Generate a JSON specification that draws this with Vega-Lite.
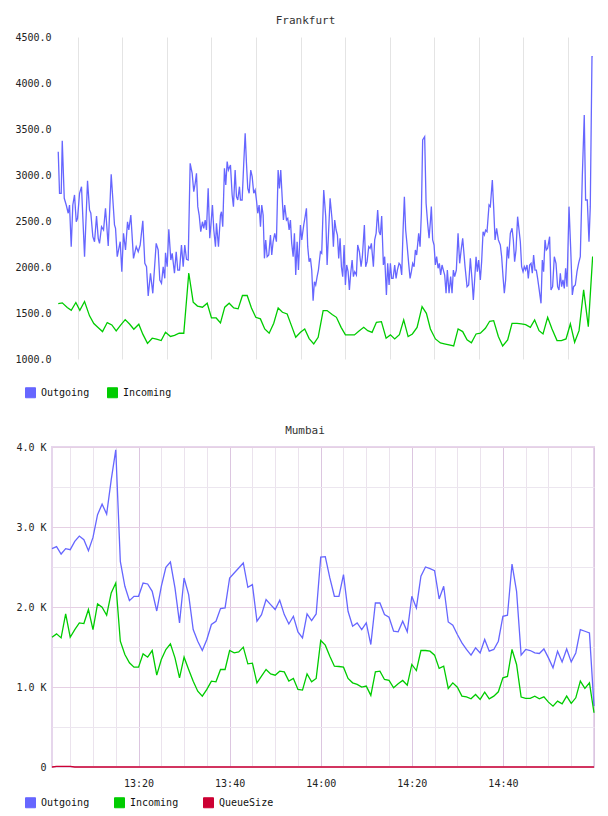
{
 "$schema": "https://vega.github.io/schema/vega-lite/v6.json",
 "padding": {"left": 14, "top": 15, "right": 2, "bottom": 5},
 "background": "white",
 "config": {
  "font": "DejaVu Sans Mono",
  "axis": {"labelFont": "DejaVu Sans Mono", "labelFontSize": 10, "labelColor": "#222", "ticks": false, "domain": false, "labelOverlap": false, "labelFlush": false},
  "legend": {"labelFont": "DejaVu Sans Mono", "labelFontSize": 10, "labelColor": "#111", "direction": "horizontal", "symbolType": "square", "symbolSize": 100, "symbolStrokeWidth": 1, "labelOffset": 5},
  "title": {"font": "DejaVu Sans Mono", "fontSize": 11, "fontWeight": "normal", "color": "#333", "anchor": "middle", "offset": 6}
 },
 "datasets": {
  "fra_out": [{"min":0.65,"Outgoing":3253},{"min":0.94,"Outgoing":2801},{"min":1.32,"Outgoing":2801},{"min":1.55,"Outgoing":3373},{"min":2.0,"Outgoing":2747},{"min":2.44,"Outgoing":2674},{"min":2.89,"Outgoing":2584},{"min":3.18,"Outgoing":2674},{"min":3.56,"Outgoing":2221},{"min":3.92,"Outgoing":2674},{"min":4.3,"Outgoing":2783},{"min":4.69,"Outgoing":2492},{"min":4.98,"Outgoing":2529},{"min":5.43,"Outgoing":2801},{"min":5.87,"Outgoing":2873},{"min":6.55,"Outgoing":2112},{"min":7.22,"Outgoing":2938},{"min":7.67,"Outgoing":2620},{"min":7.96,"Outgoing":2584},{"min":8.41,"Outgoing":2329},{"min":8.79,"Outgoing":2275},{"min":9.24,"Outgoing":2554},{"min":9.62,"Outgoing":2312},{"min":9.91,"Outgoing":2257},{"min":10.36,"Outgoing":2438},{"min":10.81,"Outgoing":2402},{"min":11.25,"Outgoing":2638},{"min":11.86,"Outgoing":2228},{"min":12.53,"Outgoing":3008},{"min":13.27,"Outgoing":2457},{"min":13.5,"Outgoing":2421},{"min":13.88,"Outgoing":2112},{"min":14.55,"Outgoing":2275},{"min":14.91,"Outgoing":1949},{"min":15.29,"Outgoing":2366},{"min":15.74,"Outgoing":2185},{"min":16.19,"Outgoing":2492},{"min":16.48,"Outgoing":2402},{"min":16.93,"Outgoing":2565},{"min":17.53,"Outgoing":2094},{"min":18.14,"Outgoing":2221},{"min":18.59,"Outgoing":2166},{"min":19.03,"Outgoing":2239},{"min":19.62,"Outgoing":2503},{"min":20.07,"Outgoing":2040},{"min":20.45,"Outgoing":2003},{"min":20.83,"Outgoing":1685},{"min":21.34,"Outgoing":1932},{"min":21.86,"Outgoing":1714},{"min":22.62,"Outgoing":2257},{"min":23.07,"Outgoing":2185},{"min":23.43,"Outgoing":1859},{"min":23.81,"Outgoing":1823},{"min":24.19,"Outgoing":2003},{"min":24.55,"Outgoing":1877},{"min":24.71,"Outgoing":2155},{"min":25.09,"Outgoing":2003},{"min":25.45,"Outgoing":2410},{"min":25.9,"Outgoing":2076},{"min":26.21,"Outgoing":2149},{"min":26.72,"Outgoing":1932},{"min":27.11,"Outgoing":2166},{"min":27.46,"Outgoing":1967},{"min":27.85,"Outgoing":1967},{"min":28.29,"Outgoing":2239},{"min":28.68,"Outgoing":2003},{"min":29.03,"Outgoing":2239},{"min":29.42,"Outgoing":2084},{"min":29.8,"Outgoing":2076},{"min":30.24,"Outgoing":3127},{"min":30.69,"Outgoing":3018},{"min":31.05,"Outgoing":2819},{"min":31.37,"Outgoing":2910},{"min":31.66,"Outgoing":3018},{"min":31.95,"Outgoing":2656},{"min":32.26,"Outgoing":2565},{"min":32.62,"Outgoing":2384},{"min":33.0,"Outgoing":2492},{"min":33.29,"Outgoing":2421},{"min":33.61,"Outgoing":2511},{"min":33.9,"Outgoing":2402},{"min":34.28,"Outgoing":2855},{"min":34.64,"Outgoing":2312},{"min":34.95,"Outgoing":2492},{"min":35.24,"Outgoing":2674},{"min":35.54,"Outgoing":2402},{"min":35.92,"Outgoing":2221},{"min":36.14,"Outgoing":2475},{"min":36.59,"Outgoing":2221},{"min":37.04,"Outgoing":2565},{"min":37.26,"Outgoing":2601},{"min":37.55,"Outgoing":2438},{"min":37.93,"Outgoing":3073},{"min":38.23,"Outgoing":2891},{"min":38.54,"Outgoing":3145},{"min":38.83,"Outgoing":3054},{"min":39.28,"Outgoing":3109},{"min":39.66,"Outgoing":2783},{"min":39.95,"Outgoing":2656},{"min":40.33,"Outgoing":3054},{"min":40.63,"Outgoing":2764},{"min":40.92,"Outgoing":2728},{"min":41.3,"Outgoing":2873},{"min":41.52,"Outgoing":2728},{"min":41.9,"Outgoing":2728},{"min":42.26,"Outgoing":3127},{"min":42.58,"Outgoing":3453},{"min":42.87,"Outgoing":3127},{"min":43.16,"Outgoing":2855},{"min":43.47,"Outgoing":2801},{"min":43.83,"Outgoing":3054},{"min":44.15,"Outgoing":2982},{"min":44.5,"Outgoing":2801},{"min":44.82,"Outgoing":2837},{"min":45.11,"Outgoing":2728},{"min":45.4,"Outgoing":2584},{"min":45.71,"Outgoing":2674},{"min":46.01,"Outgoing":2438},{"min":46.3,"Outgoing":2674},{"min":46.61,"Outgoing":2565},{"min":46.9,"Outgoing":2094},{"min":47.19,"Outgoing":2294},{"min":47.51,"Outgoing":2112},{"min":47.87,"Outgoing":2130},{"min":48.25,"Outgoing":2348},{"min":48.54,"Outgoing":2130},{"min":48.85,"Outgoing":2275},{"min":49.21,"Outgoing":2366},{"min":49.59,"Outgoing":2275},{"min":49.97,"Outgoing":3054},{"min":50.27,"Outgoing":2855},{"min":50.56,"Outgoing":3054},{"min":50.87,"Outgoing":2764},{"min":51.16,"Outgoing":2511},{"min":51.45,"Outgoing":2674},{"min":51.84,"Outgoing":2511},{"min":52.13,"Outgoing":2529},{"min":52.44,"Outgoing":2402},{"min":52.73,"Outgoing":2511},{"min":53.02,"Outgoing":2257},{"min":53.34,"Outgoing":2112},{"min":53.63,"Outgoing":2366},{"min":53.92,"Outgoing":1913},{"min":54.23,"Outgoing":2275},{"min":54.53,"Outgoing":1967},{"min":54.97,"Outgoing":2457},{"min":55.27,"Outgoing":2294},{"min":55.72,"Outgoing":2457},{"min":56.03,"Outgoing":2547},{"min":56.32,"Outgoing":2638},{"min":56.61,"Outgoing":2221},{"min":56.92,"Outgoing":2058},{"min":57.22,"Outgoing":2094},{"min":57.51,"Outgoing":1967},{"min":57.82,"Outgoing":1634},{"min":58.11,"Outgoing":1840},{"min":58.4,"Outgoing":1804},{"min":58.72,"Outgoing":1895},{"min":59.01,"Outgoing":1967},{"min":59.46,"Outgoing":2166},{"min":59.75,"Outgoing":2149},{"min":60.2,"Outgoing":2837},{"min":60.65,"Outgoing":2547},{"min":60.96,"Outgoing":2022},{"min":61.63,"Outgoing":2747},{"min":62.08,"Outgoing":2511},{"min":62.37,"Outgoing":2221},{"min":62.66,"Outgoing":2511},{"min":62.98,"Outgoing":2402},{"min":63.27,"Outgoing":2348},{"min":63.56,"Outgoing":2094},{"min":63.87,"Outgoing":2312},{"min":64.17,"Outgoing":2003},{"min":64.46,"Outgoing":1895},{"min":64.77,"Outgoing":2239},{"min":65.06,"Outgoing":1804},{"min":65.35,"Outgoing":2022},{"min":65.67,"Outgoing":1949},{"min":65.96,"Outgoing":1750},{"min":66.25,"Outgoing":1932},{"min":66.57,"Outgoing":2076},{"min":66.86,"Outgoing":1895},{"min":67.15,"Outgoing":1949},{"min":67.53,"Outgoing":1913},{"min":67.82,"Outgoing":2239},{"min":68.2,"Outgoing":2166},{"min":68.58,"Outgoing":2003},{"min":68.87,"Outgoing":2112},{"min":69.32,"Outgoing":2457},{"min":69.61,"Outgoing":2003},{"min":69.93,"Outgoing":2058},{"min":70.29,"Outgoing":2221},{"min":70.6,"Outgoing":2203},{"min":70.89,"Outgoing":2257},{"min":71.34,"Outgoing":2003},{"min":71.63,"Outgoing":2294},{"min":71.95,"Outgoing":2366},{"min":72.3,"Outgoing":2620},{"min":72.62,"Outgoing":2384},{"min":72.91,"Outgoing":2348},{"min":73.2,"Outgoing":2554},{"min":73.58,"Outgoing":2022},{"min":73.87,"Outgoing":2112},{"min":74.26,"Outgoing":1696},{"min":74.55,"Outgoing":2040},{"min":74.86,"Outgoing":1804},{"min":75.15,"Outgoing":2040},{"min":75.44,"Outgoing":1877},{"min":75.76,"Outgoing":1877},{"min":76.12,"Outgoing":2022},{"min":76.43,"Outgoing":1877},{"min":76.72,"Outgoing":1967},{"min":77.1,"Outgoing":2040},{"min":77.39,"Outgoing":2022},{"min":77.69,"Outgoing":1913},{"min":78.0,"Outgoing":2402},{"min":78.29,"Outgoing":2764},{"min":78.58,"Outgoing":2402},{"min":78.9,"Outgoing":2239},{"min":79.25,"Outgoing":2040},{"min":79.57,"Outgoing":1877},{"min":79.86,"Outgoing":1949},{"min":80.15,"Outgoing":2040},{"min":80.47,"Outgoing":2003},{"min":80.76,"Outgoing":2185},{"min":81.05,"Outgoing":2130},{"min":81.5,"Outgoing":2366},{"min":81.81,"Outgoing":2221},{"min":82.1,"Outgoing":2584},{"min":82.39,"Outgoing":3381},{"min":82.84,"Outgoing":3416},{"min":83.16,"Outgoing":2692},{"min":83.51,"Outgoing":2475},{"min":83.83,"Outgoing":2312},{"min":84.12,"Outgoing":2492},{"min":84.34,"Outgoing":2656},{"min":84.64,"Outgoing":2294},{"min":84.95,"Outgoing":2239},{"min":85.24,"Outgoing":2022},{"min":85.53,"Outgoing":2112},{"min":85.85,"Outgoing":1986},{"min":86.14,"Outgoing":2040},{"min":86.43,"Outgoing":1913},{"min":86.74,"Outgoing":2022},{"min":87.03,"Outgoing":1967},{"min":87.33,"Outgoing":1913},{"min":87.64,"Outgoing":1714},{"min":87.93,"Outgoing":1967},{"min":88.31,"Outgoing":1714},{"min":88.67,"Outgoing":1895},{"min":88.98,"Outgoing":1714},{"min":89.28,"Outgoing":1967},{"min":89.57,"Outgoing":1895},{"min":89.95,"Outgoing":1967},{"min":90.33,"Outgoing":2366},{"min":90.69,"Outgoing":2040},{"min":91.07,"Outgoing":2203},{"min":91.37,"Outgoing":2312},{"min":91.9,"Outgoing":2003},{"min":92.35,"Outgoing":1786},{"min":92.71,"Outgoing":1804},{"min":93.09,"Outgoing":2094},{"min":93.47,"Outgoing":1859},{"min":93.76,"Outgoing":1641},{"min":94.05,"Outgoing":1859},{"min":94.37,"Outgoing":2112},{"min":94.66,"Outgoing":1949},{"min":94.95,"Outgoing":2076},{"min":95.33,"Outgoing":1859},{"min":95.62,"Outgoing":2058},{"min":95.94,"Outgoing":2384},{"min":96.23,"Outgoing":2348},{"min":96.52,"Outgoing":2402},{"min":96.83,"Outgoing":2384},{"min":97.28,"Outgoing":2674},{"min":97.57,"Outgoing":2656},{"min":98.02,"Outgoing":2946},{"min":98.31,"Outgoing":2656},{"min":98.63,"Outgoing":2294},{"min":98.98,"Outgoing":2421},{"min":99.37,"Outgoing":2294},{"min":99.81,"Outgoing":2239},{"min":100.11,"Outgoing":2112},{"min":100.42,"Outgoing":1895},{"min":100.71,"Outgoing":1714},{"min":101.0,"Outgoing":1859},{"min":101.38,"Outgoing":2221},{"min":101.67,"Outgoing":2094},{"min":102.06,"Outgoing":2366},{"min":102.44,"Outgoing":2421},{"min":102.73,"Outgoing":2294},{"min":103.02,"Outgoing":2058},{"min":103.33,"Outgoing":2185},{"min":103.69,"Outgoing":2547},{"min":104.01,"Outgoing":2402},{"min":104.3,"Outgoing":2275},{"min":104.59,"Outgoing":2003},{"min":104.91,"Outgoing":1949},{"min":105.2,"Outgoing":2003},{"min":105.49,"Outgoing":1967},{"min":105.8,"Outgoing":2022},{"min":106.09,"Outgoing":1877},{"min":106.39,"Outgoing":2022},{"min":106.7,"Outgoing":2040},{"min":106.99,"Outgoing":1932},{"min":107.28,"Outgoing":2130},{"min":107.59,"Outgoing":1967},{"min":107.89,"Outgoing":1967},{"min":108.18,"Outgoing":1877},{"min":108.49,"Outgoing":1768},{"min":108.94,"Outgoing":1605},{"min":109.23,"Outgoing":2076},{"min":109.52,"Outgoing":1949},{"min":109.84,"Outgoing":2294},{"min":110.13,"Outgoing":2185},{"min":110.42,"Outgoing":2203},{"min":110.87,"Outgoing":2329},{"min":111.18,"Outgoing":1750},{"min":111.54,"Outgoing":1786},{"min":111.92,"Outgoing":2112},{"min":112.3,"Outgoing":2040},{"min":112.66,"Outgoing":1786},{"min":112.97,"Outgoing":1750},{"min":113.27,"Outgoing":1932},{"min":113.56,"Outgoing":1786},{"min":113.87,"Outgoing":1859},{"min":114.16,"Outgoing":1768},{"min":114.46,"Outgoing":1986},{"min":114.77,"Outgoing":1786},{"min":115.22,"Outgoing":2656},{"min":115.58,"Outgoing":2221},{"min":115.96,"Outgoing":1696},{"min":116.25,"Outgoing":1786},{"min":116.63,"Outgoing":1804},{"min":117.01,"Outgoing":1949},{"min":117.37,"Outgoing":2040},{"min":117.75,"Outgoing":2112},{"min":118.2,"Outgoing":2982},{"min":118.64,"Outgoing":3652},{"min":118.94,"Outgoing":2728},{"min":119.32,"Outgoing":2728},{"min":119.7,"Outgoing":2275},{"min":119.99,"Outgoing":2656},{"min":120.37,"Outgoing":4286},{"min":120.55,"Outgoing":4286}],
  "fra_in": [{"min":0.65,"Incoming":1603},{"min":1.55,"Incoming":1610},{"min":2.67,"Incoming":1560},{"min":3.57,"Incoming":1530},{"min":4.6,"Incoming":1614},{"min":5.49,"Incoming":1530},{"min":6.55,"Incoming":1625},{"min":7.67,"Incoming":1469},{"min":8.63,"Incoming":1385},{"min":9.64,"Incoming":1340},{"min":10.58,"Incoming":1298},{"min":11.64,"Incoming":1396},{"min":12.67,"Incoming":1370},{"min":13.65,"Incoming":1305},{"min":14.6,"Incoming":1365},{"min":15.67,"Incoming":1428},{"min":16.64,"Incoming":1380},{"min":17.6,"Incoming":1323},{"min":18.72,"Incoming":1378},{"min":19.62,"Incoming":1270},{"min":20.67,"Incoming":1170},{"min":21.73,"Incoming":1226},{"min":22.69,"Incoming":1215},{"min":23.74,"Incoming":1200},{"min":24.71,"Incoming":1290},{"min":25.83,"Incoming":1245},{"min":26.73,"Incoming":1258},{"min":27.78,"Incoming":1280},{"min":28.81,"Incoming":1280},{"min":29.93,"Incoming":1935},{"min":30.92,"Incoming":1618},{"min":31.88,"Incoming":1575},{"min":33.0,"Incoming":1563},{"min":34.06,"Incoming":1606},{"min":35.02,"Incoming":1446},{"min":36.08,"Incoming":1446},{"min":37.04,"Incoming":1392},{"min":38.0,"Incoming":1563},{"min":38.99,"Incoming":1606},{"min":40.02,"Incoming":1555},{"min":41.0,"Incoming":1545},{"min":41.97,"Incoming":1690},{"min":43.03,"Incoming":1690},{"min":43.99,"Incoming":1555},{"min":44.96,"Incoming":1453},{"min":46.0,"Incoming":1436},{"min":46.97,"Incoming":1327},{"min":47.96,"Incoming":1280},{"min":48.99,"Incoming":1388},{"min":49.98,"Incoming":1555},{"min":50.94,"Incoming":1508},{"min":52.0,"Incoming":1490},{"min":52.96,"Incoming":1363},{"min":53.92,"Incoming":1236},{"min":54.98,"Incoming":1290},{"min":55.94,"Incoming":1327},{"min":56.93,"Incoming":1222},{"min":57.96,"Incoming":1165},{"min":58.95,"Incoming":1236},{"min":60.07,"Incoming":1526},{"min":60.96,"Incoming":1526},{"min":62.09,"Incoming":1483},{"min":63.05,"Incoming":1453},{"min":64.1,"Incoming":1344},{"min":65.07,"Incoming":1262},{"min":66.19,"Incoming":1262},{"min":67.09,"Incoming":1262},{"min":68.05,"Incoming":1301},{"min":69.17,"Incoming":1344},{"min":70.07,"Incoming":1308},{"min":71.05,"Incoming":1290},{"min":72.02,"Incoming":1399},{"min":73.14,"Incoming":1406},{"min":74.19,"Incoming":1226},{"min":75.16,"Incoming":1262},{"min":76.12,"Incoming":1218},{"min":77.17,"Incoming":1265},{"min":78.14,"Incoming":1425},{"min":79.13,"Incoming":1244},{"min":80.09,"Incoming":1272},{"min":81.14,"Incoming":1344},{"min":82.26,"Incoming":1570},{"min":83.23,"Incoming":1497},{"min":84.13,"Incoming":1327},{"min":85.25,"Incoming":1218},{"min":86.37,"Incoming":1175},{"min":87.26,"Incoming":1165},{"min":88.32,"Incoming":1153},{"min":89.35,"Incoming":1142},{"min":90.34,"Incoming":1327},{"min":91.37,"Incoming":1298},{"min":92.35,"Incoming":1208},{"min":93.32,"Incoming":1175},{"min":94.37,"Incoming":1272},{"min":95.34,"Incoming":1280},{"min":96.46,"Incoming":1334},{"min":97.42,"Incoming":1410},{"min":98.32,"Incoming":1417},{"min":99.37,"Incoming":1244},{"min":100.34,"Incoming":1142},{"min":101.46,"Incoming":1208},{"min":102.44,"Incoming":1388},{"min":103.56,"Incoming":1388},{"min":104.53,"Incoming":1381},{"min":105.49,"Incoming":1374},{"min":106.55,"Incoming":1344},{"min":107.51,"Incoming":1425},{"min":108.5,"Incoming":1308},{"min":109.39,"Incoming":1272},{"min":110.43,"Incoming":1453},{"min":111.41,"Incoming":1327},{"min":112.53,"Incoming":1200},{"min":113.5,"Incoming":1200},{"min":114.55,"Incoming":1218},{"min":115.52,"Incoming":1381},{"min":116.48,"Incoming":1182},{"min":117.47,"Incoming":1308},{"min":118.5,"Incoming":1752},{"min":119.55,"Incoming":1352},{"min":120.52,"Incoming":2115}],
  "mum": [{"min":1,"Outgoing":2729,"Incoming":1622,"QueueSize":0},{"min":2,"Outgoing":2754,"Incoming":1664,"QueueSize":8},{"min":3,"Outgoing":2662,"Incoming":1614,"QueueSize":8},{"min":4,"Outgoing":2729,"Incoming":1913,"QueueSize":8},{"min":5,"Outgoing":2717,"Incoming":1622,"QueueSize":8},{"min":6,"Outgoing":2820,"Incoming":1718,"QueueSize":0},{"min":7,"Outgoing":2887,"Incoming":1801,"QueueSize":0},{"min":8,"Outgoing":2841,"Incoming":1793,"QueueSize":0},{"min":9,"Outgoing":2704,"Incoming":1968,"QueueSize":0},{"min":10,"Outgoing":2870,"Incoming":1718,"QueueSize":0},{"min":11,"Outgoing":3154,"Incoming":2038,"QueueSize":0},{"min":12,"Outgoing":3286,"Incoming":1997,"QueueSize":0},{"min":13,"Outgoing":3161,"Incoming":1897,"QueueSize":0},{"min":14,"Outgoing":3590,"Incoming":2176,"QueueSize":0},{"min":15,"Outgoing":3965,"Incoming":2300,"QueueSize":0},{"min":16,"Outgoing":2571,"Incoming":1572,"QueueSize":0},{"min":17,"Outgoing":2259,"Incoming":1406,"QueueSize":0},{"min":18,"Outgoing":2080,"Incoming":1302,"QueueSize":0},{"min":19,"Outgoing":2134,"Incoming":1248,"QueueSize":0},{"min":20,"Outgoing":2134,"Incoming":1248,"QueueSize":0},{"min":21,"Outgoing":2300,"Incoming":1414,"QueueSize":0},{"min":22,"Outgoing":2288,"Incoming":1373,"QueueSize":0},{"min":23,"Outgoing":2196,"Incoming":1456,"QueueSize":0},{"min":24,"Outgoing":1950,"Incoming":1148,"QueueSize":0},{"min":25,"Outgoing":2259,"Incoming":1344,"QueueSize":0},{"min":26,"Outgoing":2496,"Incoming":1469,"QueueSize":0},{"min":27,"Outgoing":2562,"Incoming":1539,"QueueSize":0},{"min":28,"Outgoing":2238,"Incoming":1364,"QueueSize":0},{"min":29,"Outgoing":1801,"Incoming":1115,"QueueSize":0},{"min":30,"Outgoing":2363,"Incoming":1373,"QueueSize":0},{"min":31,"Outgoing":2155,"Incoming":1219,"QueueSize":0},{"min":32,"Outgoing":1718,"Incoming":1073,"QueueSize":0},{"min":33,"Outgoing":1572,"Incoming":948,"QueueSize":0},{"min":34,"Outgoing":1456,"Incoming":886,"QueueSize":0},{"min":35,"Outgoing":1594,"Incoming":970,"QueueSize":0},{"min":36,"Outgoing":1781,"Incoming":1073,"QueueSize":0},{"min":37,"Outgoing":1822,"Incoming":1065,"QueueSize":0},{"min":38,"Outgoing":1980,"Incoming":1219,"QueueSize":0},{"min":39,"Outgoing":1988,"Incoming":1219,"QueueSize":0},{"min":40,"Outgoing":2363,"Incoming":1456,"QueueSize":0},{"min":41,"Outgoing":2425,"Incoming":1426,"QueueSize":0},{"min":42,"Outgoing":2488,"Incoming":1439,"QueueSize":0},{"min":43,"Outgoing":2550,"Incoming":1498,"QueueSize":0},{"min":44,"Outgoing":2246,"Incoming":1289,"QueueSize":0},{"min":45,"Outgoing":2280,"Incoming":1298,"QueueSize":0},{"min":46,"Outgoing":1822,"Incoming":1052,"QueueSize":0},{"min":47,"Outgoing":1905,"Incoming":1136,"QueueSize":0},{"min":48,"Outgoing":2093,"Incoming":1219,"QueueSize":0},{"min":49,"Outgoing":2030,"Incoming":1164,"QueueSize":0},{"min":50,"Outgoing":1968,"Incoming":1148,"QueueSize":0},{"min":51,"Outgoing":2084,"Incoming":1198,"QueueSize":0},{"min":52,"Outgoing":1905,"Incoming":1189,"QueueSize":0},{"min":53,"Outgoing":1788,"Incoming":1073,"QueueSize":0},{"min":54,"Outgoing":1884,"Incoming":1107,"QueueSize":0},{"min":55,"Outgoing":1689,"Incoming":970,"QueueSize":0},{"min":56,"Outgoing":1614,"Incoming":961,"QueueSize":0},{"min":57,"Outgoing":1913,"Incoming":1164,"QueueSize":0},{"min":58,"Outgoing":1830,"Incoming":1065,"QueueSize":0},{"min":59,"Outgoing":1913,"Incoming":1107,"QueueSize":0},{"min":60,"Outgoing":2625,"Incoming":1581,"QueueSize":0},{"min":61,"Outgoing":2629,"Incoming":1523,"QueueSize":0},{"min":62,"Outgoing":2363,"Incoming":1385,"QueueSize":0},{"min":63,"Outgoing":2134,"Incoming":1260,"QueueSize":0},{"min":64,"Outgoing":2134,"Incoming":1256,"QueueSize":0},{"min":65,"Outgoing":2405,"Incoming":1248,"QueueSize":0},{"min":66,"Outgoing":1947,"Incoming":1107,"QueueSize":0},{"min":67,"Outgoing":1760,"Incoming":1052,"QueueSize":0},{"min":68,"Outgoing":1801,"Incoming":1032,"QueueSize":0},{"min":69,"Outgoing":1718,"Incoming":998,"QueueSize":0},{"min":70,"Outgoing":1801,"Incoming":1011,"QueueSize":0},{"min":71,"Outgoing":1531,"Incoming":895,"QueueSize":0},{"min":72,"Outgoing":2050,"Incoming":1189,"QueueSize":0},{"min":73,"Outgoing":2050,"Incoming":1198,"QueueSize":0},{"min":74,"Outgoing":1905,"Incoming":1094,"QueueSize":0},{"min":75,"Outgoing":1872,"Incoming":1082,"QueueSize":0},{"min":76,"Outgoing":1697,"Incoming":990,"QueueSize":0},{"min":77,"Outgoing":1689,"Incoming":1040,"QueueSize":0},{"min":78,"Outgoing":1822,"Incoming":1082,"QueueSize":0},{"min":79,"Outgoing":1689,"Incoming":1023,"QueueSize":0},{"min":80,"Outgoing":2134,"Incoming":1282,"QueueSize":0},{"min":81,"Outgoing":1988,"Incoming":1206,"QueueSize":0},{"min":82,"Outgoing":2384,"Incoming":1456,"QueueSize":0},{"min":83,"Outgoing":2500,"Incoming":1456,"QueueSize":0},{"min":84,"Outgoing":2480,"Incoming":1448,"QueueSize":0},{"min":85,"Outgoing":2455,"Incoming":1398,"QueueSize":0},{"min":86,"Outgoing":2101,"Incoming":1232,"QueueSize":0},{"min":87,"Outgoing":2259,"Incoming":1260,"QueueSize":0},{"min":88,"Outgoing":1813,"Incoming":982,"QueueSize":0},{"min":89,"Outgoing":1772,"Incoming":1052,"QueueSize":0},{"min":90,"Outgoing":1656,"Incoming":998,"QueueSize":0},{"min":91,"Outgoing":1551,"Incoming":886,"QueueSize":0},{"min":92,"Outgoing":1469,"Incoming":877,"QueueSize":0},{"min":93,"Outgoing":1398,"Incoming":852,"QueueSize":0},{"min":94,"Outgoing":1489,"Incoming":907,"QueueSize":0},{"min":95,"Outgoing":1426,"Incoming":845,"QueueSize":0},{"min":96,"Outgoing":1594,"Incoming":936,"QueueSize":0},{"min":97,"Outgoing":1448,"Incoming":852,"QueueSize":0},{"min":98,"Outgoing":1469,"Incoming":886,"QueueSize":0},{"min":99,"Outgoing":1572,"Incoming":940,"QueueSize":0},{"min":100,"Outgoing":1884,"Incoming":1115,"QueueSize":0},{"min":101,"Outgoing":1897,"Incoming":1132,"QueueSize":0},{"min":102,"Outgoing":2537,"Incoming":1469,"QueueSize":0},{"min":103,"Outgoing":2196,"Incoming":1282,"QueueSize":0},{"min":104,"Outgoing":1398,"Incoming":874,"QueueSize":0},{"min":105,"Outgoing":1469,"Incoming":857,"QueueSize":0},{"min":106,"Outgoing":1456,"Incoming":857,"QueueSize":0},{"min":107,"Outgoing":1426,"Incoming":886,"QueueSize":0},{"min":108,"Outgoing":1419,"Incoming":852,"QueueSize":0},{"min":109,"Outgoing":1476,"Incoming":877,"QueueSize":0},{"min":110,"Outgoing":1364,"Incoming":811,"QueueSize":0},{"min":111,"Outgoing":1239,"Incoming":761,"QueueSize":0},{"min":112,"Outgoing":1448,"Incoming":824,"QueueSize":0},{"min":113,"Outgoing":1314,"Incoming":790,"QueueSize":0},{"min":114,"Outgoing":1476,"Incoming":886,"QueueSize":0},{"min":115,"Outgoing":1314,"Incoming":795,"QueueSize":0},{"min":116,"Outgoing":1426,"Incoming":865,"QueueSize":0},{"min":117,"Outgoing":1718,"Incoming":1073,"QueueSize":0},{"min":118,"Outgoing":1697,"Incoming":982,"QueueSize":0},{"min":119,"Outgoing":1676,"Incoming":1052,"QueueSize":0},{"min":120,"Outgoing":761,"Incoming":678,"QueueSize":0}]
 },
 "vconcat": [
  {
   "title": {"text": "Frankfurt", "dx": -17},
   "width": 541,
   "height": 322,
   "view": {"stroke": null},
   "layer": [
    {
     "data": {"name": "fra_out"},
     "transform": [{"fold": ["Outgoing"], "as": ["series", "value"]}],
     "mark": {"type": "line", "strokeWidth": 1.3, "clip": true},
     "encoding": {
      "x": {"field": "min", "type": "quantitative", "title": null, "scale": {"domain": [-0.75, 120.6], "nice": false, "zero": false},
            "axis": {"values": [5,10,15,20,25,30,35,40,45,50,55,60,65,70,75,80,85,90,95,100,105,110,115,120], "grid": true, "gridColor": "#e4e4e4", "labelPadding": 10,
                     "labelExpr": "datum.value % 20 == 0 ? timeFormat(datetime(2000, 0, 1, 13, datum.value, 0), '%H:%M') : ''"}},
      "y": {"field": "value", "type": "quantitative", "title": null, "scale": {"domain": [1000, 4500], "nice": false, "zero": false},
            "axis": {"values": [1000,1250,1500,1750,2000,2250,2500,2750,3000,3250,3500,3750,4000,4250,4500], "grid": true, "gridWidth": 2, "labelPadding": 1,
                     "gridColor": {"condition": {"test": "datum.value % 500 == 0", "value": "transparent"}, "value": "#eeeeee"},
                     "labelExpr": "datum.value % 500 == 0 ? format(datum.value, '.1f') : ''"}},
      "color": {"field": "series", "type": "nominal", "scale": {"domain": ["Outgoing", "Incoming"], "range": ["#6666ff", "#00cc00"]},
                "legend": {"title": null, "orient": "none", "legendX": -27, "legendY": 350, "columnPadding": 15,
                           "encode": {"symbols": {"update": {"fill": {"signal": "datum.value == 'Outgoing' ? '#6666ff' : (datum.value == 'Incoming' ? '#00cc00' : '#cc0033')"}, "stroke": {"value": "#999999"}}}}}}
     }
    },
    {
     "data": {"name": "fra_in"},
     "transform": [{"fold": ["Incoming"], "as": ["series", "value"]}],
     "mark": {"type": "line", "strokeWidth": 1.3, "clip": true},
     "encoding": {
      "x": {"field": "min", "type": "quantitative"},
      "y": {"field": "value", "type": "quantitative"},
      "color": {"field": "series", "type": "nominal"}
     }
    }
   ]
  },
  {
   "title": {"text": "Mumbai", "dx": -18},
   "width": 542,
   "height": 320,
   "view": {"stroke": "#e6d6ec", "strokeWidth": 2},
   "data": {"name": "mum"},
   "transform": [{"fold": ["Outgoing", "Incoming", "QueueSize"], "as": ["series", "value"]}],
   "mark": {"type": "line", "strokeWidth": 1.3},
   "encoding": {
    "x": {"field": "min", "type": "quantitative", "title": null, "scale": {"domain": [1, 120], "nice": false, "zero": false},
          "axis": {"values": [5,10,15,20,25,30,35,40,45,50,55,60,65,70,75,80,85,90,95,100,105,110,115,120], "grid": true, "labelPadding": 11,
                   "gridColor": {"condition": {"test": "datum.value % 20 == 0", "value": "#dcc6e0"}, "value": "#ebe3ed"},
                   "labelExpr": "datum.value % 20 == 0 && datum.value < 120 ? timeFormat(datetime(2000, 0, 1, 13, datum.value, 0), '%H:%M') : ''"}},
    "y": {"field": "value", "type": "quantitative", "title": null, "scale": {"domain": [0, 4000], "nice": false},
          "axis": {"values": [0,500,1000,1500,2000,2500,3000,3500,4000], "grid": true, "labelPadding": 6,
                   "gridColor": {"condition": {"test": "datum.value % 1000 == 0", "value": "#e6d0e4"}, "value": "#ece6ef"},
                   "labelExpr": "datum.value % 1000 == 0 ? (datum.value == 0 ? '0' : format(datum.value / 1000, '.1f') + ' K') : ''"}},
    "color": {"field": "series", "type": "nominal", "scale": {"domain": ["Outgoing", "Incoming", "QueueSize"], "range": ["#6666ff", "#00cc00", "#cc0033"]},
              "legend": {"title": null, "orient": "none", "legendX": -27, "legendY": 350, "columnPadding": 22,
                         "encode": {"symbols": {"update": {"fill": {"signal": "datum.value == 'Outgoing' ? '#6666ff' : (datum.value == 'Incoming' ? '#00cc00' : '#cc0033')"}, "stroke": {"value": "#999999"}}}}}}
   }
  }
 ],
 "spacing": 24,
 "resolve": {"scale": {"color": "independent", "x": "independent", "y": "independent"}, "legend": {"color": "independent"}}
}
